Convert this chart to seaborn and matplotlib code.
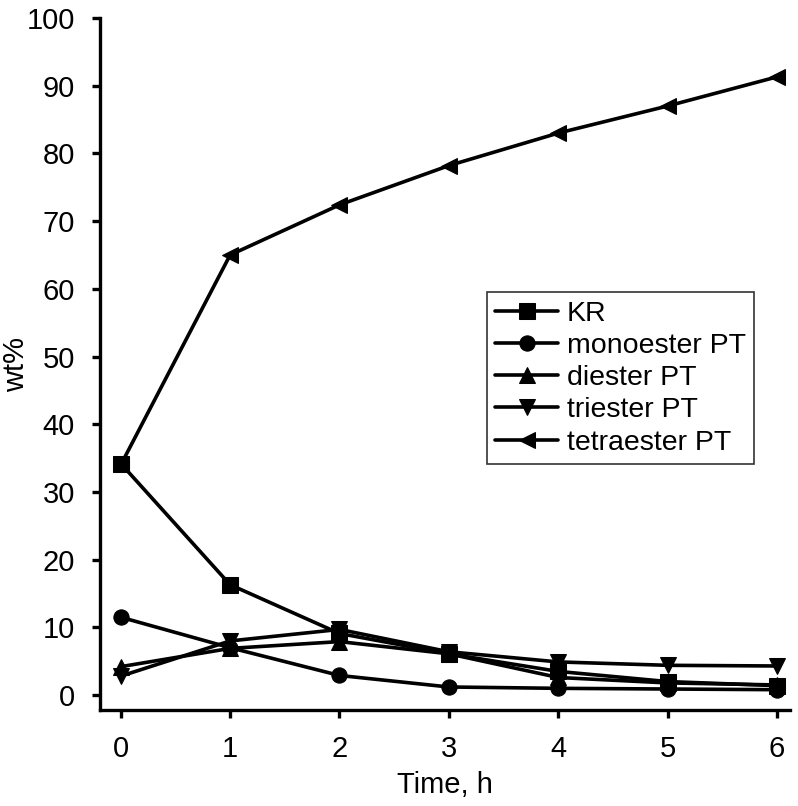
import matplotlib
matplotlib.use("Agg")
import matplotlib.pyplot as plt
import seaborn as sns
import pandas as pd

time_h = [0, 1, 2, 3, 4, 5, 6]
kr = [34.2, 16.3, 9.1, 6.1, 3.5, 2.0, 1.4]
monoester = [11.5, 7.0, 2.9, 1.2, 1.0, 0.9, 0.8]
diester = [4.2, 6.9, 7.9, 6.1, 2.6, 1.8, 1.5]
triester = [2.8, 8.0, 9.7, 6.4, 4.9, 4.4, 4.3]
tetraester = [34.0, 65.0, 72.4, 78.2, 83.0, 87.0, 91.3]

series_names = ["KR", "monoester PT", "diester PT", "triester PT", "tetraester PT"]
series_values = [kr, monoester, diester, triester, tetraester]
series_markers = ["s", "o", "^", "v", "<"]

x_ticks = [0, 1, 2, 3, 4, 5, 6]
y_ticks = [0, 10, 20, 30, 40, 50, 60, 70, 80, 90, 100]

rows = []
for name, vals in zip(series_names, series_values):
    for t, v in zip(time_h, vals):
        rows.append({"Time, h": t, "wt%": v, "series": name})
df = pd.DataFrame(rows)

sns.set_style("ticks")
plt.rcParams["font.family"] = ["Liberation Sans", "DejaVu Sans"]
plt.rcParams["text.color"] = "black"
plt.rcParams["axes.labelcolor"] = "black"

fig = plt.figure(figsize=(7.98, 8.06), dpi=100)
ax = fig.add_axes([100 / 798, 1 - 710 / 806, 690 / 798, 692 / 806])

sns.lineplot(data=df, x="Time, h", y="wt%", hue="series", style="series",
             markers=dict(zip(series_names, series_markers)), dashes=False,
             palette=dict(zip(series_names, ["black"] * 5)),
             hue_order=series_names, style_order=series_names,
             linewidth=2.6, markersize=11, markeredgecolor="black", ax=ax)

ax.set_xlim(-0.19, 6.12)
ax.set_ylim(-2.2, 100)
ax.set_xticks(x_ticks)
ax.set_yticks(y_ticks)
ax.set_xlabel("Time, h", fontsize=21, labelpad=6, color="black")
ax.set_ylabel("wt%", fontsize=21, color="black")
ax.yaxis.set_label_coords(-0.102, 0.5)
ax.tick_params(axis="both", labelsize=21, width=2.4, length=6, color="black",
               labelcolor="black", direction="out")
ax.tick_params(axis="y", pad=12)
ax.tick_params(axis="x", pad=12)
for side in ["top", "right"]:
    ax.spines[side].set_visible(False)
for side in ["left", "bottom"]:
    ax.spines[side].set_linewidth(2.4)
    ax.spines[side].set_color("black")

leg = ax.legend(loc="upper right", bbox_to_anchor=(0.948, 0.604), borderaxespad=0,
                fontsize=20.5, frameon=True, fancybox=False, handlelength=2.2,
                handletextpad=0.3, labelspacing=0.22, borderpad=0.3)
leg.get_frame().set_edgecolor("black")
leg.get_frame().set_linewidth(1.2)
for line in leg.get_lines():
    line.set_linewidth(2.6)

fig.savefig("out.png", dpi=100)
